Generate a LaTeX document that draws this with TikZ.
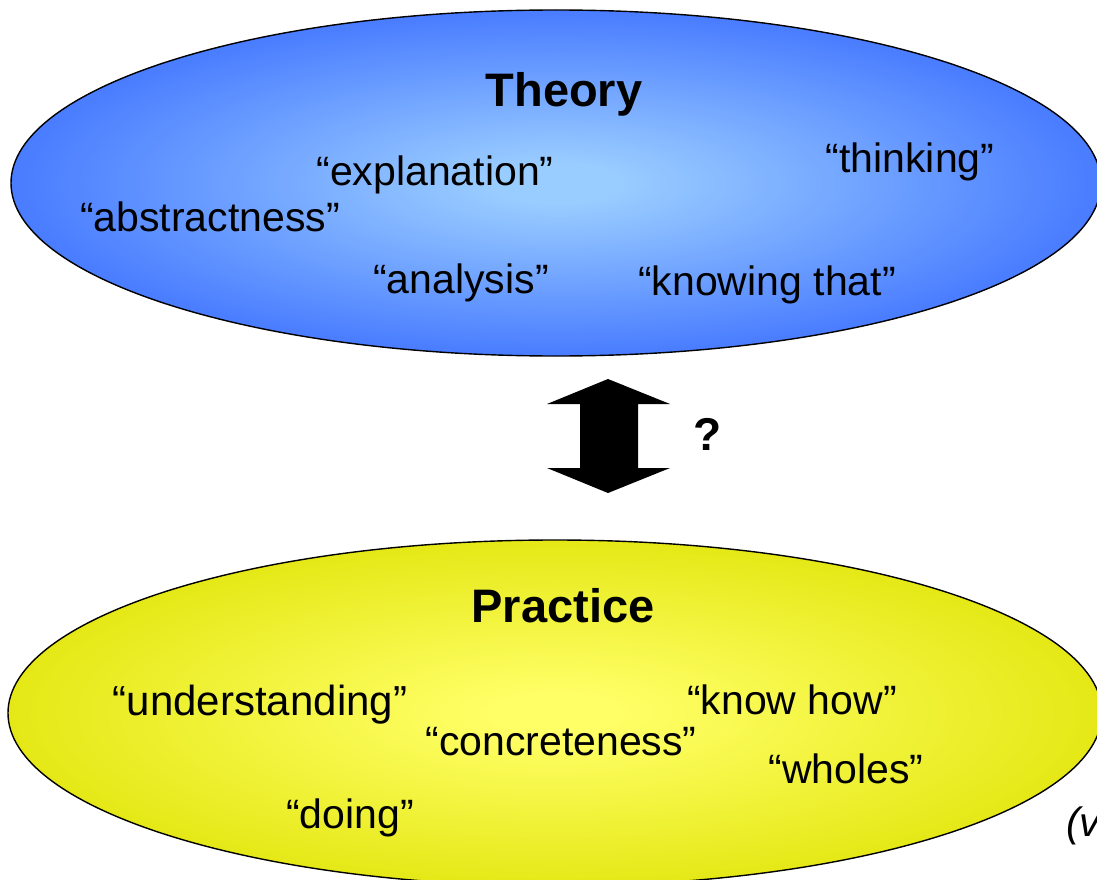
\documentclass[tikz,border=0pt]{standalone}
\usepackage{fontspec}
\setmainfont{Liberation Sans}
\definecolor{topout}{RGB}{51,102,255}
\definecolor{topin}{RGB}{153,204,255}
\definecolor{botout}{RGB}{222,226,0}
\definecolor{botin}{RGB}{255,255,102}
\pgfdeclareradialshading{topshade}{\pgfpointorigin}{color(0bp)=(topin); color(3bp)=(topin); color(31bp)=(topout); color(50bp)=(topout)}
\pgfdeclareradialshading{botshade}{\pgfpointorigin}{color(0bp)=(botin); color(3bp)=(botin); color(31bp)=(botout); color(50bp)=(botout)}
\tikzset{
  word/.style={anchor=base, inner sep=0pt, font=\fontsize{41}{49}\selectfont},
  title/.style={anchor=base, inner sep=0pt, font=\fontsize{47}{56}\selectfont\bfseries},
  blob/.style={draw=black, line width=1.4pt}
}
\begin{document}
\begin{tikzpicture}[x=1pt,y=-1pt]
\useasboundingbox (0,0) rectangle (1097,880);
\clip (0,0) rectangle (1097,880);
% Theory ellipse
\shade[blob, shading=topshade] (556,183) ellipse [x radius=545, y radius=173];
% Practice ellipse
\shade[blob, shading=botshade] (555,713) ellipse [x radius=547, y radius=173];
% texts top
\node[title] (theory) at (564,107) {Theory};
\node[word] (expl) at (435,185) {“explanation”};
\node[word] (think) at (910,172) {“thinking”};
\node[word] (abstr) at (210,231) {“abstractness”};
\node[word] (anal) at (461,293) {“analysis”};
\node[word] (know) at (767,295) {“knowing that”};
% double arrow
\fill[black] (608,379) -- (670,404) -- (638,404) -- (638,468) -- (670,468) -- (608,493)
  -- (547,468) -- (580,468) -- (580,404) -- (547,404) -- cycle;
\node[title, font=\fontsize{46}{55}\selectfont\bfseries] (q) at (708,450) {?};
% texts bottom
\node[title] (practice) at (563,622) {Practice};
\node[word, font=\fontsize{42}{50}\selectfont] (under) at (260,715) {“understanding”};
\node[word] (knowhow) at (792,714) {“know how”};
\node[word] (concr) at (561,755) {“concreteness”};
\node[word] (whole) at (846,783) {“wholes”};
\node[word] (doing) at (350,828) {“doing”};
\node[word, anchor=base west] (vv) at (1066,836) {\itshape (v};
\end{tikzpicture}
\end{document}
